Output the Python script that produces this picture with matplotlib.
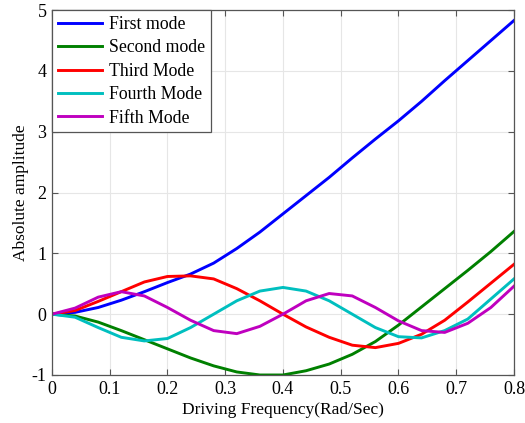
import matplotlib
matplotlib.use("Agg")
import matplotlib.pyplot as plt
import numpy as np

freq = [0.00, 0.04, 0.08, 0.12, 0.16, 0.20, 0.24, 0.28, 0.32, 0.36, 0.40,
        0.44, 0.48, 0.52, 0.56, 0.60, 0.64, 0.68, 0.72, 0.76, 0.80]

first_mode = [0.00, 0.03, 0.11, 0.23, 0.37, 0.52, 0.66, 0.84, 1.08, 1.35, 1.65,
              1.95, 2.25, 2.57, 2.88, 3.18, 3.50, 3.84, 4.17, 4.50, 4.83]
second_mode = [0.00, -0.03, -0.13, -0.27, -0.42, -0.57, -0.72, -0.85, -0.95, -1.00, -1.00,
               -0.93, -0.82, -0.66, -0.45, -0.18, 0.12, 0.42, 0.72, 1.03, 1.36]
third_mode = [0.00, 0.06, 0.21, 0.37, 0.53, 0.62, 0.63, 0.58, 0.42, 0.22, 0.00,
              -0.21, -0.38, -0.51, -0.55, -0.48, -0.33, -0.10, 0.20, 0.51, 0.82]
fourth_mode = [0.00, -0.05, -0.22, -0.38, -0.44, -0.40, -0.22, 0.00, 0.22, 0.38, 0.44,
               0.38, 0.22, 0.00, -0.22, -0.37, -0.39, -0.27, -0.08, 0.25, 0.58]
fifth_mode = [0.00, 0.10, 0.28, 0.37, 0.30, 0.11, -0.10, -0.27, -0.32, -0.20, 0.00,
              0.22, 0.34, 0.30, 0.11, -0.11, -0.27, -0.30, -0.15, 0.11, 0.46]

labels = ["First mode", "Second mode", "Third Mode", "Fourth Mode", "Fifth Mode"]
colors = ["#0000ff", "#008000", "#ff0000", "#00bfbf", "#bf00bf"]

x_ticks = [0, 0.1, 0.2, 0.3, 0.4, 0.5, 0.6, 0.7, 0.8]
x_tick_labels = ["0", "0.1", "0.2", "0.3", "0.4", "0.5", "0.6", "0.7", "0.8"]
y_ticks = [-1, 0, 1, 2, 3, 4, 5]
y_tick_labels = ["-1", "0", "1", "2", "3", "4", "5"]

plt.rcParams["font.family"] = ["Liberation Serif", "DejaVu Serif"]
plt.rcParams["font.size"] = 12.5

fig = plt.figure(figsize=(5.25, 4.23), dpi=100)
ax = fig.add_axes([0.099, 0.1135, 0.88, 0.8625])

series = [first_mode, second_mode, third_mode, fourth_mode, fifth_mode]
for values, label, color in zip(series, labels, colors):
    ax.plot(freq, values, color=color, lw=2.1, label=label)

ax.set_xlim(0, 0.8)
ax.set_ylim(-1, 5)
ax.set_xticks(x_ticks)
ax.set_xticklabels(x_tick_labels, fontsize=13)
ax.set_yticks(y_ticks)
ax.set_yticklabels(y_tick_labels, fontsize=13)

ax.grid(True, color="#e6e6e6", lw=0.8)
ax.tick_params(direction="in", top=True, right=True, length=4.5, color="#555555", pad=4)
for spine in ax.spines.values():
    spine.set_color("#555555")
    spine.set_linewidth(0.9)

ax.set_xlabel("Driving Frequency(Rad/Sec)", labelpad=3)
ax.set_ylabel("Absolute amplitude", labelpad=2)

leg = ax.legend(loc="upper left", borderaxespad=0, fancybox=False, framealpha=1,
                handlelength=2.5, handletextpad=0.35, labelspacing=0.36,
                borderpad=0.33, fontsize=12.8)
leg.get_frame().set_edgecolor("#555555")
leg.get_frame().set_linewidth(0.9)

plt.savefig("out.png", dpi=100)
